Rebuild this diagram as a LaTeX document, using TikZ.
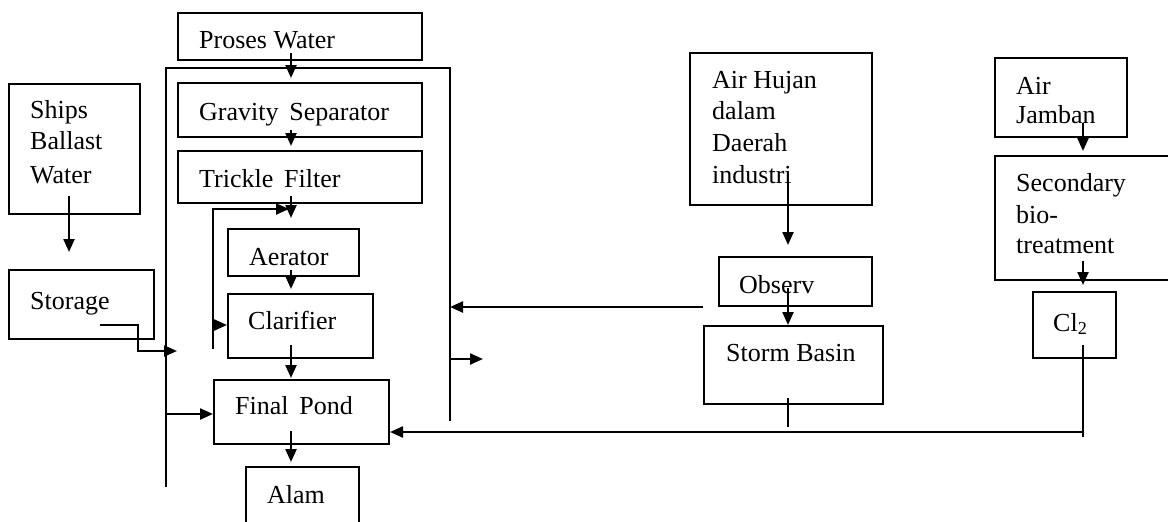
\documentclass[tikz,border=0pt]{standalone}
\usepackage{fontspec}
\setmainfont{Liberation Serif}
\usetikzlibrary{arrows.meta}
\begin{document}
\begin{tikzpicture}[x=1pt,y=-1pt,
  box/.style={draw,line width=2pt,inner sep=0pt,anchor=north west},
  txt/.style={anchor=base west,inner sep=0pt,font=\fontsize{26}{31}\selectfont},
  wire/.style={line width=2.3pt},
  arr/.style={line width=2.3pt,-{Triangle[length=13pt,width=11pt]}}]
\clip (0,0) rectangle (1168,522);
\fill[white] (0,0) rectangle (1168,522);
% boxes
\node[box,minimum width=244pt,minimum height=47pt] (pw) at (177,12) {};
\node[box,minimum width=244pt,minimum height=54pt] (gs) at (177,82) {};
\node[box,minimum width=244pt,minimum height=52pt] (tf) at (177,150) {};
\node[box,minimum width=131pt,minimum height=47pt] (aer) at (227,228) {};
\node[box,minimum width=145pt,minimum height=64pt] (cla) at (227,293) {};
\node[box,minimum width=175pt,minimum height=64pt] (fp) at (213,379) {};
\node[box,minimum width=113pt,minimum height=80pt] (alam) at (245,466) {};
\node[box,minimum width=131pt,minimum height=130pt] (sbw) at (8,83) {};
\node[box,minimum width=145pt,minimum height=69pt] (sto) at (8,269) {};
\node[box,minimum width=182pt,minimum height=152pt] (ahu) at (689,52) {};
\node[box,minimum width=153pt,minimum height=49pt] (obs) at (718,256) {};
\node[box,minimum width=179pt,minimum height=78pt] (stb) at (703,325) {};
\node[box,minimum width=132pt,minimum height=79pt] (ajb) at (994,57) {};
\node[box,minimum width=200pt,minimum height=124pt] (sec) at (994,155) {};
\node[box,minimum width=83pt,minimum height=66pt] (cl) at (1032,291) {};
% texts
\node[txt] (t1) at (199,48) {Proses Water};
\node[txt] (t2) at (199,120) {Gravity\, Separator};
\node[txt] (t3) at (199,187) {Trickle\, Filter};
\node[txt] (t4) at (249,265) {Aerator};
\node[txt] (t5) at (248,329) {Clarifier};
\node[txt] (t6) at (235,414) {Final\, Pond};
\node[txt] (t7) at (267,503) {Alam};
\node[txt] (t8a) at (30,118) {Ships};
\node[txt] (t8b) at (30,149) {Ballast};
\node[txt] (t8c) at (30,183) {Water};
\node[txt] (t9) at (30,309) {Storage};
\node[txt] (t10a) at (712,88) {Air Hujan};
\node[txt] (t10b) at (712,119) {dalam};
\node[txt] (t10c) at (712,151) {Daerah};
\node[txt] (t10d) at (712,183) {industri};
\node[txt] (t11) at (739,293) {Observ};
\node[txt] (t12) at (726,361) {Storm Basin};
\node[txt] (t13a) at (1016,94) {Air};
\node[txt] (t13b) at (1016,123) {Jamban};
\node[txt] (t14a) at (1016,191) {Secondary};
\node[txt] (t14b) at (1016,223) {bio-};
\node[txt] (t14c) at (1016,253) {treatment};
\node[txt] (t15) at (1053,331) {Cl\textsubscript{2}};
% frame
\coordinate (fbl) at (166,487);
\coordinate (ftl) at (166,68);
\coordinate (ftr) at (450,68);
\coordinate (fbr) at (450,421);
\draw[wire] (fbl) -- (ftl) -- (ftr) -- (fbr);
% main column
\coordinate (a1) at (291,53);
\coordinate (a2) at (291,130);
\coordinate (a3) at (291,196);
\coordinate (a4) at (291,270);
\coordinate (a5) at (291,345);
\coordinate (a6) at (291,431);
\draw[arr] (a1) -- ([yshift=4pt]a1 |- gs.north);
\draw[arr] (a2) -- ([yshift=4pt]a2 |- tf.north);
\draw[arr] (a3) -- ([yshift=10pt]a3 |- aer.north);
\draw[arr] (a4) -- ([yshift=4pt]a4 |- cla.north);
\draw[arr] (a5) -- ([yshift=1pt]a5 |- fp.north);
\draw[arr] (a6) -- ([yshift=4pt]a6 |- alam.north);
% recycle loop
\coordinate (l1) at (213,349);
\coordinate (l2) at (213,209);
\coordinate (l3) at (213,325);
\draw[arr] (l1) -- (l2) -- ([xshift=-2pt]l2 -| a3);
\draw[arr] (l3) -- (l3 -| cla.west);
% frame to final pond
\coordinate (f1) at (166,414);
\draw[arr] (f1) -- (f1 -| fp.west);
% ships ballast
\coordinate (s1) at (69,196);
\draw[arr] (s1) -- ([yshift=17pt]s1 |- sto.north);
\coordinate (s2) at (100,325);
\coordinate (s3) at (138,325);
\coordinate (s4) at (138,351);
\coordinate (s5) at (177,351);
\draw[arr] (s2) -- (s3) -- (s4) -- (s5);
% right side of frame
\coordinate (o1) at (703,307);
\draw[arr] (o1) -- (o1 -| fbr);
\coordinate (o2) at (450,359);
\coordinate (o3) at (483,359);
\draw[arr] (o2) -- (o3);
% rain water
\coordinate (h1) at (788,180);
\coordinate (h2) at (788,288);
\coordinate (h3) at (788,398);
\coordinate (h4) at (788,427);
\draw[arr] (h1) -- ([yshift=11pt]h1 |- obs.north);
\draw[arr] (h2) -- (h2 |- stb.north);
\draw[line width=1.8pt] (h3) -- (h4);
% toilet water
\coordinate (j1) at (1083,123);
\coordinate (j2) at (1083,261);
\coordinate (j3) at (1083,345);
\coordinate (j4) at (1083,437);
\coordinate (j5) at (1083,432);
\draw[arr] (j1) -- ([yshift=4pt]j1 |- sec.north);
\draw[arr] (j2) -- ([yshift=6pt]j2 |- cl.north);
\draw[line width=1.8pt] (j3) -- (j4);
\draw[arr] (j5) -- (j5 -| fp.east);
\end{tikzpicture}
\end{document}
